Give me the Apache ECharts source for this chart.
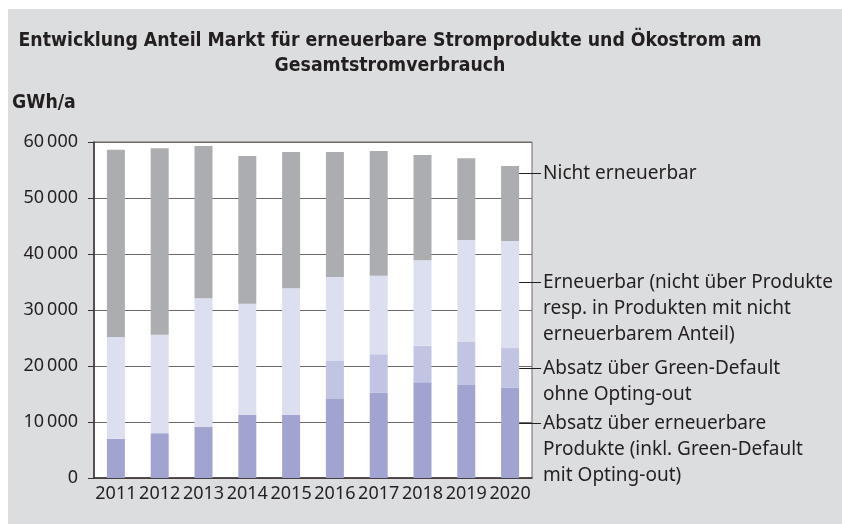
<!DOCTYPE html>
<html>
<head>
<meta charset="utf-8">
<script src="https://cdn.jsdelivr.net/npm/echarts@6/dist/echarts.min.js"></script>
<style>
html,body{margin:0;padding:0;background:#fff;}
#wrap{position:absolute;left:8px;top:9px;width:834px;height:515px;background:#dcdddf;}
#chart{position:absolute;left:0;top:0;width:842px;height:524px;}
</style>
</head>
<body>
<div id="wrap"></div>
<div id="chart"></div>
<script>
var years = ['2011','2012','2013','2014','2015','2016','2017','2018','2019','2020'];
// Absatz über erneuerbare Produkte (inkl. Green-Default mit Opting-out)
var produkte = [7000, 8000, 9100, 11300, 11300, 14100, 15200, 17100, 16600, 16100];
// Absatz über Green-Default ohne Opting-out
var greenDefault = [0, 0, 0, 0, 0, 6800, 6900, 6500, 7700, 7100];
// Erneuerbar (nicht über Produkte ...)
var erneuerbar = [18200, 17600, 23000, 19800, 22600, 15000, 14000, 15300, 18200, 19100];
// Nicht erneuerbar
var nichtErneuerbar = [33400, 33300, 27200, 26400, 24300, 22300, 22300, 18800, 14600, 13400];

var seriesNames = [
	'Absatz über erneuerbare\nProdukte (inkl. Green-Default\nmit Opting-out)',
	'Absatz über Green-Default\nohne Opting-out',
	'Erneuerbar (nicht über Produkte\nresp. in Produkten mit nicht\nerneuerbarem Anteil)',
	'Nicht erneuerbar'
];
// Höhe der Beschriftung rechts (GWh/a)
var labelAt = [9800, 19600, 35000, 54500];

var textColor = '#231f20';
var font = '"Noto Sans", sans-serif';
var boldFont = 'bold 19.3px "DejaVu Sans Condensed", "Liberation Sans Narrow", sans-serif';

function fmt(v){
	var s = String(v);
	if(s.length > 3) s = s.slice(0, s.length-3) + '\u2009' + s.slice(s.length-3);
	return s;
}

var chart = echarts.init(document.getElementById('chart'));
var option = {
	animation:false,
	color:['#a1a4d0','#c1c4e2','#dcdfef','#abadb0'],
	grid:{
		left:94,
		right:310,
		top:142,
		bottom:46,
		show:true,
		backgroundColor:'#ffffff',
		borderColor:'#6e6868',
		borderWidth:1
	},
	xAxis:{
		type:'category',
		data:years,
		axisLine:{lineStyle:{color:'#3a3234',width:1.5}},
		axisTick:{show:false},
		axisLabel:{color:textColor,fontSize:18,fontFamily:font,margin:7,interval:0}
	},
	yAxis:{
		type:'value',
		min:0,
		max:60000,
		interval:10000,
		axisLine:{show:true,lineStyle:{color:'#3a3234',width:1.5}},
		axisTick:{show:true,length:6,lineStyle:{color:'#3a3234'}},
		axisLabel:{color:textColor,fontSize:18,fontFamily:font,margin:16,formatter:fmt},
		splitLine:{lineStyle:{color:'#6e6868',width:1}}
	},
	series:[
		{name:seriesNames[0],type:'bar',stack:'a',barWidth:18,data:produkte},
		{name:seriesNames[1],type:'bar',stack:'a',barWidth:18,data:greenDefault},
		{name:seriesNames[2],type:'bar',stack:'a',barWidth:18,data:erneuerbar},
		{name:seriesNames[3],type:'bar',stack:'a',barWidth:18,data:nichtErneuerbar}
	]
};
chart.setOption(option);

// Titel und Beschriftungen rechts
var x0 = chart.convertToPixel({xAxisIndex:0}, years[years.length-1]) + 9;
var graphics = [
	{type:'text',x:390,y:53,style:{text:'Entwicklung Anteil Markt für erneuerbare Stromprodukte und Ökostrom am\nGesamtstromverbrauch',
		align:'center',verticalAlign:'middle',lineHeight:25,fill:textColor,font:boldFont}},
	{type:'text',x:12,y:103,style:{text:'GWh/a',verticalAlign:'middle',fill:textColor,font:boldFont}}
];
for(var i=0;i<seriesNames.length;i++){
	var y = Math.round(chart.convertToPixel({yAxisIndex:0}, labelAt[i])) + 0.5;
	graphics.push({type:'line',shape:{x1:x0,y1:y,x2:x0+22,y2:y},style:{stroke:'#231f20',lineWidth:1}});
	graphics.push({type:'text',x:x0+24,y:y-13,style:{text:seriesNames[i],fill:textColor,
		font:'19px ' + font,lineHeight:26,verticalAlign:'top'}});
}
chart.setOption({graphic:graphics});
</script>
</body>
</html>
